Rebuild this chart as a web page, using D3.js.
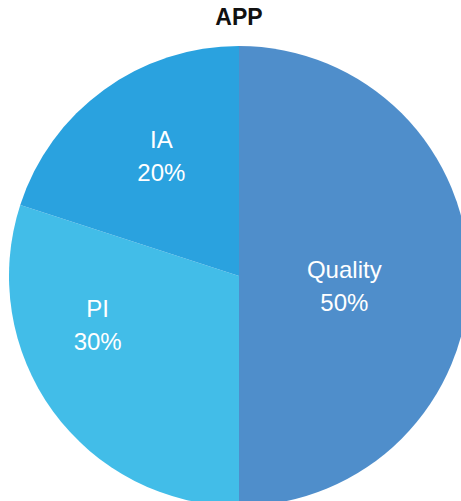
<!DOCTYPE html>
<html>
<head>
<meta charset="utf-8">
<script src="https://cdn.jsdelivr.net/npm/d3@7"></script>
<style>
  body { margin: 0; background: #fff; }
  svg { display: block; }
</style>
</head>
<body>
<svg id="chart" width="461" height="501"></svg>
<script>
// data
const categories = ['Quality', 'PI', 'IA']
const shares = [50, 30, 20]
const sliceColors = ['#4f8ecb', '#42bde8', '#2aa2df']

const W = 461, H = 501
const cx = 239, cy = 276, radius = 230

// label placement tweaks (radius factor, angle shift in degrees)
const labelPos = [[0.46, 5.5], [0.65, 17], [0.62, 3]]

function drawPie() {
    const svg = d3.select('#chart')
    svg.selectChildren().remove()

    svg.append('text').text('APP')
        .attr('x', cx).attr('y', 25)
        .attr('text-anchor', 'middle')
        .attr('font-family', 'Liberation Sans, Arial, sans-serif')
        .attr('font-weight', 'bold')
        .attr('font-size', '23px')
        .attr('fill', '#111')

    const pie = d3.pie().sort(null).value(d => d)
    const arcs = pie(shares)
    const arc = d3.arc().innerRadius(0).outerRadius(radius)

    const g = svg.append('g').attr('transform', `translate(${cx},${cy})`)

    g.selectAll('path').data(arcs).join('path')
        .attr('d', arc)
        .attr('fill', (d, i) => sliceColors[i])

    arcs.forEach((d, i) => {
        let mid = (d.startAngle + d.endAngle) / 2 + labelPos[i][1] * Math.PI / 180
        let r = radius * labelPos[i][0]
        let x = Math.sin(mid) * r
        let y = -Math.cos(mid) * r
        let t = g.append('text')
            .attr('text-anchor', 'middle')
            .attr('font-family', 'Liberation Sans, Arial, sans-serif')
            .attr('font-size', '24px')
            .attr('fill', '#fff')
        t.append('tspan').attr('x', x).attr('y', y - 8).text(categories[i])
        t.append('tspan').attr('x', x).attr('y', y + 25).text(shares[i] + '%')
    })
}

drawPie()
</script>
</body>
</html>
